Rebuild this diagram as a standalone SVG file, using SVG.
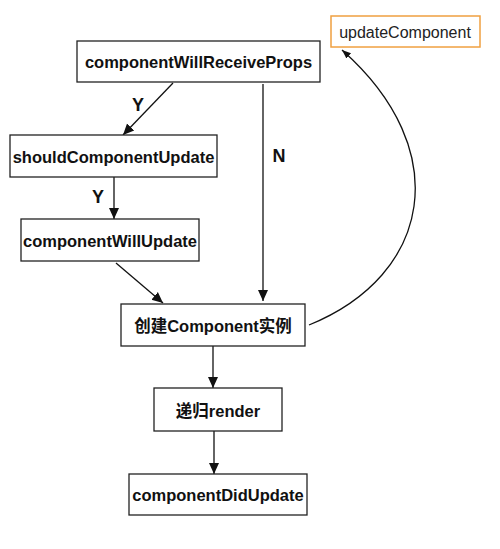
<svg xmlns="http://www.w3.org/2000/svg" width="500" height="549" viewBox="0 0 500 549">
<style>
.box{fill:#fff;stroke:#222;stroke-width:1.3}
.lbl{font-family:"Liberation Sans","Noto Sans CJK SC",sans-serif;font-size:16.5px;font-weight:bold;fill:#111;text-anchor:middle;dominant-baseline:central}
.yn{font-size:18px}
.edge{fill:none;stroke:#111;stroke-width:1.3}
</style>
<defs>
<marker id="ah" markerUnits="userSpaceOnUse" markerWidth="12" markerHeight="12" viewBox="0 0 12 12" refX="11" refY="6" orient="auto">
<path d="M0,1 L11,6 L0,11 Z" fill="#111"/>
</marker>
<marker id="ahs" markerUnits="userSpaceOnUse" markerWidth="10" markerHeight="10" viewBox="0 0 10 10" refX="9" refY="5" orient="auto">
<path d="M0,1.5 L9,5 L0,8.5 Z" fill="#111"/>
</marker>
</defs>
<rect width="500" height="549" fill="#fff"/>
<g id="connectors">
<line class="edge" x1="173" y1="83" x2="123" y2="135" marker-end="url(#ah)"/>
<line class="edge" x1="114" y1="177" x2="114" y2="219" marker-end="url(#ah)"/>
<line class="edge" x1="116" y1="263" x2="163" y2="303" marker-end="url(#ah)"/>
<line class="edge" x1="263" y1="84" x2="263" y2="301" marker-end="url(#ah)"/>
<line class="edge" x1="213" y1="346" x2="213" y2="388" marker-end="url(#ah)"/>
<line class="edge" x1="214" y1="431" x2="214" y2="474" marker-end="url(#ah)"/>
<path class="edge" d="M309,325 C432,275 455,150 342,50" marker-end="url(#ahs)"/>
<text class="lbl yn" x="138" y="105">Y</text>
<text class="lbl yn" x="98" y="197">Y</text>
<text class="lbl yn" x="279" y="156">N</text>
</g>
<g id="updateComponent">
<rect x="331" y="16" width="149" height="31" fill="#fff" stroke="#f0a040" stroke-width="1.5"/>
<text class="lbl" x="405" y="32" style="font-weight:normal;font-size:16px;fill:#222">updateComponent</text>
</g>
<g id="componentWillReceiveProps">
<rect class="box" x="77" y="41" width="243" height="41"/>
<text class="lbl" x="198.5" y="62">componentWillReceiveProps</text>
</g>
<g id="shouldComponentUpdate">
<rect class="box" x="10" y="135" width="207" height="42"/>
<text class="lbl" x="113.5" y="157">shouldComponentUpdate</text>
</g>
<g id="componentWillUpdate">
<rect class="box" x="21" y="219" width="178" height="42"/>
<text class="lbl" x="110" y="241">componentWillUpdate</text>
</g>
<g id="createComponent">
<rect class="box" x="121" y="304" width="184" height="42"/>
<text class="lbl" x="213" y="326">创建Component实例</text>
</g>
<g id="recursiveRender">
<rect class="box" x="154" y="388" width="128" height="43"/>
<text class="lbl" x="218" y="411">递归render</text>
</g>
<g id="componentDidUpdate">
<rect class="box" x="129" y="474" width="178" height="41"/>
<text class="lbl" x="218" y="495">componentDidUpdate</text>
</g>
</svg>
